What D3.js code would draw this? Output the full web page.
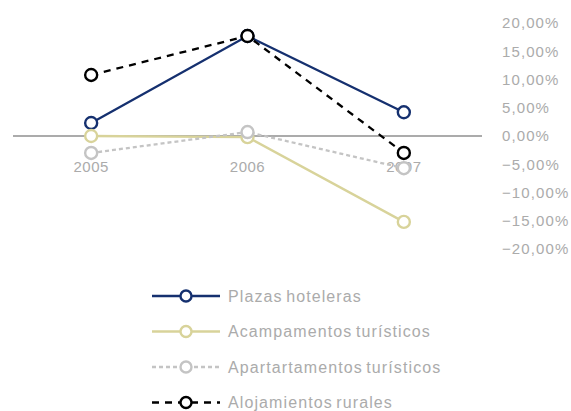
<!DOCTYPE html>
<html><head><meta charset="utf-8">
<script src="https://cdn.jsdelivr.net/npm/d3@7"></script>
<style>body{margin:0;background:#fff}svg{display:block}</style>
</head><body>
<script>
const categories = ["2005", "2006", "2007"];
const seriesNames = ["Plazas hoteleras", "Acampamentos turísticos", "Apartartamentos turísticos", "Alojamientos rurales"];
const plazasHoteleras = [2.3, 17.7, 4.2];
const acampamentos = [0.0, -0.2, -15.2];
const apartamentos = [-3.0, 0.7, -5.7];
const alojamientosRurales = [10.8, 17.7, -3.0];
const yTicks = [20, 15, 10, 5, 0, -5, -10, -15, -20];

const W = 571, H = 411;
const svg = d3.select("body").append("svg").attr("width", W).attr("height", H);
const font = "Liberation Sans, Arial, sans-serif";
const textColor = "#ababab";

const x = d3.scalePoint().domain(categories).range([13, 482]).padding(0.5);
const y = d3.scaleLinear().domain([-20, 20]).range([249, 23]);

const styles = [
  {color: "#15306f", dash: null},
  {color: "#d8d39a", dash: null},
  {color: "#c4c4c4", dash: "4,3"},
  {color: "#000000", dash: "7,6"}
];
const data = [plazasHoteleras, acampamentos, apartamentos, alojamientosRurales];

// zero line
svg.append("line").attr("x1", 13).attr("x2", 482).attr("y1", y(0)).attr("y2", y(0))
  .attr("stroke", "#8f8f8f").attr("stroke-width", 1.3);

// right axis labels
const fmt = v => d3.format(".2f")(v).replace(".", ",") + "%";
svg.append("g").selectAll("text").data(yTicks).join("text")
  .attr("x", 502).attr("y", d => y(d)).attr("dy", "0.36em")
  .attr("font-family", font).attr("font-size", 15).attr("letter-spacing", 1.1)
  .attr("fill", textColor).text(fmt);

// x labels
svg.append("g").selectAll("text").data(categories).join("text")
  .attr("x", d => x(d)).attr("y", 167).attr("dy", "0.36em").attr("text-anchor", "middle")
  .attr("font-family", font).attr("font-size", 15).attr("letter-spacing", 0.5)
  .attr("fill", textColor).text(d => d);

const line = d3.line().x((d, i) => x(categories[i])).y(d => y(d));
data.forEach((vals, si) => {
  const s = styles[si];
  const g = svg.append("g");
  g.append("path").datum(vals).attr("d", line).attr("fill", "none")
    .attr("stroke", s.color).attr("stroke-width", 2.3)
    .attr("stroke-dasharray", s.dash);
  g.selectAll("circle").data(vals).join("circle")
    .attr("cx", (d, i) => x(categories[i])).attr("cy", d => y(d)).attr("r", 6)
    .attr("fill", "#fff").attr("stroke", s.color).attr("stroke-width", 2.4);
});

// legend
const leg = svg.append("g");
seriesNames.forEach((name, i) => {
  const s = styles[i];
  const cy = 296 + i * 35.5;
  leg.append("line").attr("x1", 152).attr("x2", 220).attr("y1", cy).attr("y2", cy)
    .attr("stroke", s.color).attr("stroke-width", 2.3).attr("stroke-dasharray", s.dash);
  leg.append("circle").attr("cx", 186).attr("cy", cy).attr("r", 5.5)
    .attr("fill", "#fff").attr("stroke", s.color).attr("stroke-width", 2.4);
  leg.append("text").attr("x", 228).attr("y", cy).attr("dy", "0.36em")
    .attr("font-family", font).attr("font-size", 16).attr("letter-spacing", 1.1)
    .attr("word-spacing", -2)
    .attr("fill", textColor).text(name);
});
</script>
</body></html>
